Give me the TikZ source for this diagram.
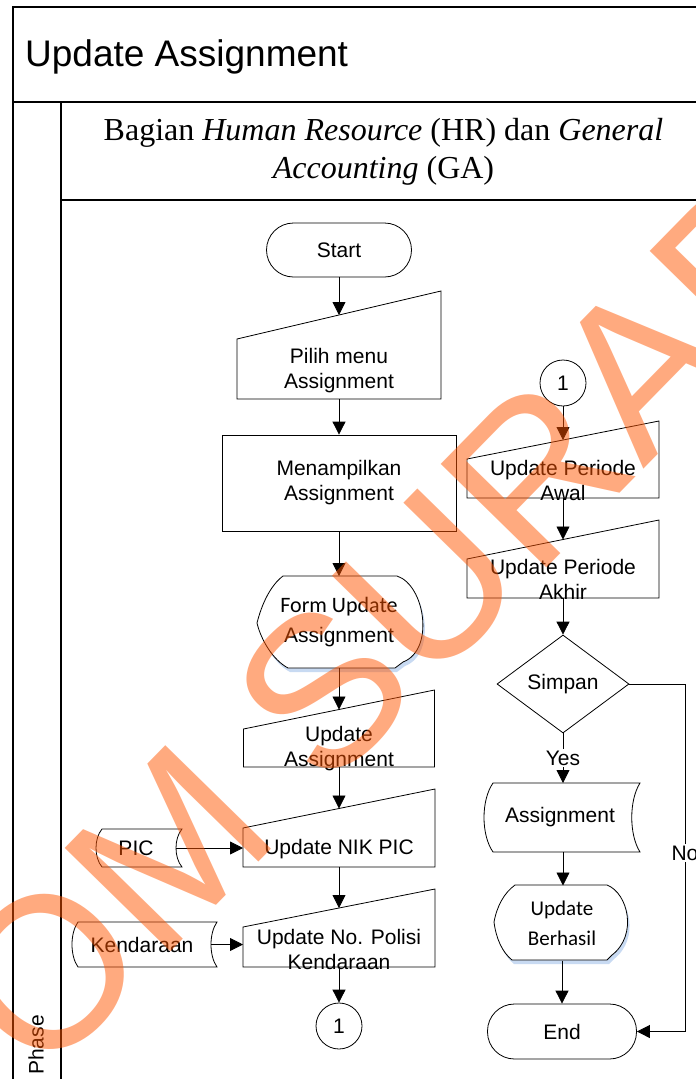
\documentclass[tikz,border=0pt]{standalone}
\usepackage{fontspec}
\setmainfont{Liberation Sans}
\newfontfamily\timesfont{Liberation Serif}
\newfontfamily\calibrifont{Carlito}
\usetikzlibrary{arrows.meta,shapes.geometric,calc}
\definecolor{shadowblue}{RGB}{200,218,242}
\definecolor{wmorange}{RGB}{255,85,0}

% display shapes (drawn twice: shadow and outline)
\newcommand\formshape[1]{\path[#1] (283,576) -- (397,576)
  .. controls (425,585) and (435,650) .. (403,662) -- (395,668) -- (288,668)
  .. controls (273,660) and (261,640) .. (257,623)
  .. controls (262,603) and (271,585) .. (283,576) -- cycle;}
\newcommand\berhasilshape[1]{\path[#1] (515,885) -- (607,885)
  .. controls (628,893) and (638,935) .. (612,955) -- (607,960) -- (512,960)
  .. controls (502,952) and (496,938) .. (494,922)
  .. controls (497,906) and (504,893) .. (515,885) -- cycle;}

\begin{document}
\begin{tikzpicture}[x=1pt,y=-1pt,
  frame/.style={line width=1.6pt},
  outline/.style={draw=black,line width=0.8pt},
  holder/.style={inner sep=0pt,outer sep=0pt,draw=none},
  txt/.style={font=\fontsize{21}{25}\selectfont,align=center,inner sep=0pt},
  terminal/.style={outline,rectangle,rounded corners=27pt,txt},
  arr/.style={line width=0.8pt,-{Triangle[length=13pt,width=13pt]}},
  lbl/.style={fill=white,inner sep=1.5pt,font=\fontsize{21}{25}\selectfont},
  connector/.style={outline,circle,minimum size=46pt,inner sep=0pt,txt}]

\useasboundingbox (0,0) rectangle (696,1079);
\clip (0,0) rectangle (696,1079);

% swimlane frame
\draw[frame] (13,1090) -- (13,7) -- (720,7);
\draw[frame] (13,102) -- (720,102);
\draw[frame] (61,102) -- (61,1090);
\draw[frame] (61,200) -- (720,200);
\node[anchor=base west,inner sep=0pt,font=\fontsize{37}{44}\selectfont] (title) at (25,66) {Update Assignment};
\node[inner sep=0pt,align=center,font=\timesfont\fontsize{32}{38}\selectfont] (lane) at (383.5,152)
  {Bagian \textit{Human Resource} (HR) dan \textit{General}\\\textit{Accounting} (GA)};
\node[rotate=90,inner sep=0pt,font=\fontsize{21}{25}\selectfont] (phase) at (36,1045) {Phase};

% left column
\node[terminal,minimum width=145pt,minimum height=54pt] (start) at (339,250) {Start};

\node[holder,minimum width=204pt,minimum height=84pt] (pilih) at (339,357) {};
\draw[outline] (pilih.south west) -- (pilih.south east) -- ([yshift=24pt]pilih.north east)
  -- ([yshift=-24pt]pilih.north west) -- cycle;
\node[txt] (pilih-t) at (339,371) {Pilih menu\\Assignment};

\node[outline,rectangle,minimum width=234pt,minimum height=96pt,txt] (tampil) at (339,483) {Menampilkan\\Assignment};

\formshape{fill=shadowblue,xshift=2pt,yshift=-4pt}
\formshape{draw=black,line width=0.8pt,fill=white}
\node[holder,txt,font=\fontsize{21}{30}\selectfont,minimum width=165pt,minimum height=92pt] (form) at (339,622)
  {{\calibrifont\fontsize{22}{30}\selectfont Form Update}\\Assignment};

\node[holder,minimum width=191pt,minimum height=57.5pt] (updasg) at (339,738.25) {};
\draw[outline] (updasg.south west) -- (updasg.south east) -- ([yshift=19.5pt]updasg.north east)
  -- ([yshift=-19.5pt]updasg.north west) -- cycle;
\node[txt] (updasg-t) at (339,749) {Update\\Assignment};

\node[holder,minimum width=192pt,minimum height=58.5pt] (nik) at (339,837.75) {};
\draw[outline] (nik.south west) -- (nik.south east) -- ([yshift=19.5pt]nik.north east)
  -- ([yshift=-19.5pt]nik.north west) -- cycle;
\node[txt] (nik-t) at (339,849) {Update NIK PIC};

\node[holder,minimum width=192pt,minimum height=59pt] (polisi) at (339,937.5) {};
\draw[outline] (polisi.south west) -- (polisi.south east) -- ([yshift=19pt]polisi.north east)
  -- ([yshift=-19pt]polisi.north west) -- cycle;
\node[txt] (polisi-t) at (339,949) {Update No. Polisi\\Kendaraan};

\node[connector] (c1a) at (339,1026) {1};

% stored data inputs
\draw[outline] (102,829) -- (182,829) .. controls (174,838.5) and (174,857.5) .. (182,867)
  -- (102,867) .. controls (94,857.5) and (94,838.5) .. (102,829) -- cycle;
\node[holder,txt,minimum width=80pt,minimum height=38pt] (pic) at (136,848) {PIC};
\draw[outline] (78,922) -- (217,922) .. controls (209,933.25) and (209,955.75) .. (217,967)
  -- (78,967) .. controls (70,955.75) and (70,933.25) .. (78,922) -- cycle;
\node[holder,txt,minimum width=138pt,minimum height=45pt] (kend) at (142,944.5) {Kendaraan};

% right column
\node[connector] (c1b) at (563,383) {1};

\node[holder,minimum width=192pt,minimum height=58pt] (awal) at (563,469) {};
\draw[outline] (awal.south west) -- (awal.south east) -- ([yshift=19pt]awal.north east)
  -- ([yshift=-19pt]awal.north west) -- cycle;
\node[txt] (awal-t) at (563,480) {Update Periode\\Awal};

\node[holder,minimum width=192pt,minimum height=58.5pt] (akhir) at (563,568.75) {};
\draw[outline] (akhir.south west) -- (akhir.south east) -- ([yshift=19.5pt]akhir.north east)
  -- ([yshift=-19.5pt]akhir.north west) -- cycle;
\node[txt] (akhir-t) at (563,579) {Update Periode\\Akhir};

\node[outline,diamond,aspect=1.35,minimum width=132pt,minimum height=98pt,inner sep=0pt,txt] (simpan) at (563,684) {Simpan};

\draw[outline] (493,783) -- (640,783) .. controls (629,800.25) and (629,834.75) .. (640,852)
  -- (493,852) .. controls (481,834.75) and (481,800.25) .. (493,783) -- cycle;
\node[holder,txt,minimum width=148pt,minimum height=69pt] (asg) at (560,817.5) {Assignment};

\berhasilshape{fill=shadowblue,xshift=2pt,yshift=-4pt}
\berhasilshape{draw=black,line width=0.8pt,fill=white}
\node[holder,txt,font=\calibrifont\fontsize{21}{30}\selectfont,minimum width=135pt,minimum height=75pt] (berhasil) at (562,923) {Update\\Berhasil};

\node[terminal,minimum width=149pt,minimum height=55pt] (end) at (562,1031.5) {End};

\coordinate (noA) at (685,684);
\coordinate (noB) at (685,1031.5);

% connectors
\draw[arr] (start) -- (pilih);
\draw[arr] (pilih) -- (tampil);
\draw[arr] (tampil) -- (form);
\draw[arr] (form) -- (updasg);
\draw[arr] (updasg) -- (nik);
\draw[arr] (nik) -- (polisi);
\draw[arr] (polisi) -- (c1a);
\draw[arr] (pic.east) -- (pic.east -| nik.west);
\draw[arr] (kend.east) -- (kend.east -| polisi.west);
\draw[arr] (c1b) -- (awal);
\draw[arr] (awal) -- (akhir);
\draw[arr] (akhir) -- (simpan);
\draw[arr] (simpan.south) -- node[lbl] (yes) {Yes} (simpan.south |- asg.north);
\draw[arr] (simpan.south |- asg.south) -- (simpan.south |- berhasil.north);
\draw[arr] (berhasil.south) -- (berhasil.south |- end.north);
\draw[arr] (simpan.east) -- (noA) -- node[lbl,pos=0.486] (no) {No} (noB) -- (end.east);

% watermark
\node[rotate=45.6,anchor=base west,inner sep=0pt,text=wmorange,text opacity=0.5,
  font=\fontsize{215}{215}\selectfont] (watermark) at (-292.6,1425.4) {STIKOM SURABAYA};
\end{tikzpicture}
\end{document}
